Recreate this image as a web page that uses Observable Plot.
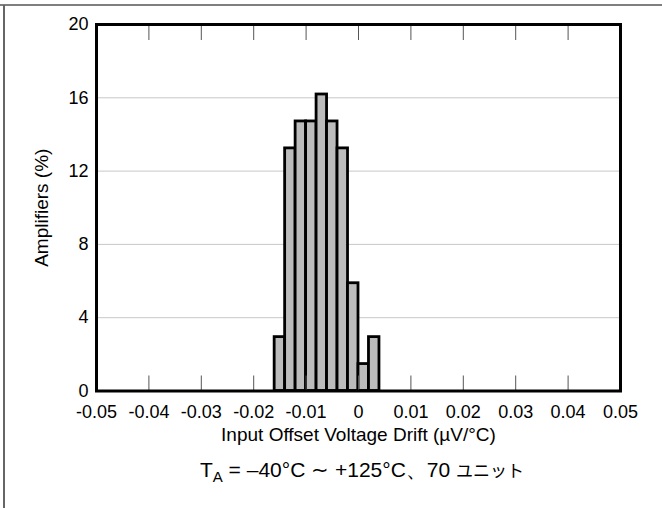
<!DOCTYPE html>
<html><head><meta charset="utf-8">
<script src="https://cdn.jsdelivr.net/npm/d3@7"></script>
<script src="https://cdn.jsdelivr.net/npm/@observablehq/plot@0.6"></script>
<style>body{margin:0;background:#fff} svg{display:block}</style>
</head><body><div id="chart"></div>
<script>
// Histogram bins (left/right edges, µV/°C)
const binLeft = [-0.016, -0.014, -0.012, -0.010, -0.008, -0.006, -0.004, -0.002, 0.000, 0.002];
const binRight = [-0.014, -0.012, -0.010, -0.008, -0.006, -0.004, -0.002, 0.000, 0.002, 0.004];
const amplifiersPct = [2.94, 13.24, 14.71, 14.71, 16.18, 14.71, 13.24, 5.88, 1.47, 2.94];
const xTicks = [-0.05, -0.04, -0.03, -0.02, -0.01, 0, 0.01, 0.02, 0.03, 0.04, 0.05];
const xTickLabels = ["-0.05", "-0.04", "-0.03", "-0.02", "-0.01", "0", "0.01", "0.02", "0.03", "0.04", "0.05"];
const yTicks = [0, 4, 8, 12, 16, 20];
const yGrid = [4, 8, 12, 16];
const xLabel = "Input Offset Voltage Drift (\u00b5V/\u00b0C)";
const yLabel = "Amplifiers (%)";

const bins = binLeft.map((x1, i) => ({x1, x2: binRight[i], pct: amplifiersPct[i]}));
const font = "'Liberation Sans', Arial, sans-serif";

const chart = Plot.plot({
  width: 662, height: 508,
  marginLeft: 96, marginRight: 42, marginTop: 24, marginBottom: 117.5,
  style: {fontFamily: font, fontSize: "18px", background: "white", color: "black"},
  x: {domain: [-0.05, 0.05]},
  y: {domain: [0, 20]},
  marks: [
    Plot.gridY(yGrid, {stroke: "#c8c8c8", strokeOpacity: 1}),
    Plot.rectY(bins, {x1: "x1", x2: "x2", y: "pct", fill: "#bcbcbc", stroke: "black", strokeWidth: 2.8}),
    Plot.axisX(xTicks, {anchor: "top", tickSize: -15, tickFormat: () => "", label: null, stroke: "#555"}),
    Plot.axisX(xTicks, {anchor: "bottom", tickSize: -15, tickFormat: () => "", label: null, stroke: "#555"}),
    Plot.axisX(xTicks, {anchor: "bottom", tickSize: 0, tickPadding: 14, fontSize: 18,
      tickFormat: d => xTickLabels[xTicks.indexOf(d)], label: null}),
    Plot.axisX(xTicks, {anchor: "bottom", tickSize: 0, tickFormat: () => "", fontSize: 19,
      label: xLabel, labelAnchor: "center", labelArrow: "none", labelOffset: 50}),
    Plot.axisY(yTicks, {anchor: "left", tickSize: 0, tickPadding: 8, fontSize: 18, label: null}),
    Plot.axisY(yTicks, {anchor: "left", tickSize: 0, tickFormat: () => "", fontSize: 19,
      label: yLabel, labelAnchor: "center", labelArrow: "none", labelOffset: 62}),
    Plot.frame({stroke: "black", strokeWidth: 3})
  ]
});
document.getElementById("chart").appendChild(chart);

const svg = d3.select(chart);
// outer cell border (top and left)
svg.append("line").attr("x1", 0).attr("x2", 662).attr("y1", 5).attr("y2", 5).attr("stroke", "#555").attr("stroke-width", 1.5);
svg.append("line").attr("x1", 4).attr("x2", 4).attr("y1", 5).attr("y2", 508).attr("stroke", "#666").attr("stroke-width", 2);

const cap = svg.append("text").attr("x", 362).attr("y", 477).attr("text-anchor", "middle")
  .attr("font-family", font).attr("font-size", 21).attr("fill", "black");
cap.append("tspan").text("T");
cap.append("tspan").attr("font-size", 15).attr("dy", 5).text("A");
cap.append("tspan").attr("dy", -5).text(" = \u201340\u00b0C \u223c +125\u00b0C\u3001" + "70 ");
cap.append("tspan").attr("font-family", "'Noto Sans CJK JP'").attr("font-size", 17).text("ユニット");
</script>
</body></html>
